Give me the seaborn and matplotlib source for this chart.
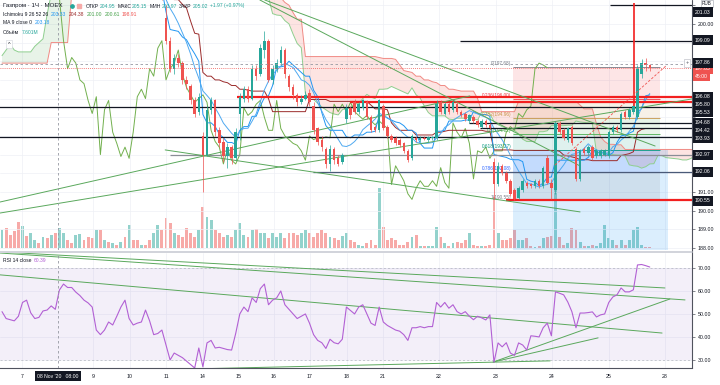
import numpy as np
import pandas as pd
import matplotlib
matplotlib.use("Agg")
import matplotlib.pyplot as plt
from matplotlib.lines import Line2D
import seaborn as sns

sns.set_theme(style="white")
plt.rcParams["font.family"] = ["Liberation Sans", "DejaVu Sans"]

# Газпром, 1Ч, MOEX — свечи (индекс = номер бара)
open_ = [204.2, 204.5, 203.9, 203.4, 202.8, 202.1, 202.4, 201.8, 202.2, 202.7,
         202.5, 203.1, 202.9, 203.2, 204.95, 205.0, 205.3, 204.9, 204.6, 204.8,
         205.1, 204.4, 203.9, 203.3, 203.7, 203.0, 203.2, 202.7, 202.9, 202.3,
         202.6, 202.0, 202.2, 201.9, 201.5, 201.8, 201.6, 201.4, 201.5, 201.6,
         200.3, 199.1, 197.6, 198.2, 197.9, 197.0, 196.7, 195.9, 195.3, 194.0,
         193.0, 195.4, 195.9, 194.3, 193.7, 192.9, 193.4, 192.8, 195.2, 196.0,
         196.5, 196.0, 197.6, 197.3, 198.6, 199.1, 197.0, 197.6, 197.9, 198.6,
         197.2, 196.6, 196.2, 195.8, 196.0, 196.3, 195.6, 194.4, 193.8, 193.3,
         192.5, 193.3, 192.8, 192.6, 194.9, 195.5, 195.8, 195.3, 195.5, 195.8,
         195.0, 194.5, 194.3, 195.6, 194.5, 194.0, 193.9, 193.8, 193.6, 193.2,
         192.8, 193.9, 193.8, 193.9, 193.8, 193.9, 193.9, 195.8, 195.2, 195.7,
         195.4, 195.7, 195.3, 195.2, 194.8, 195.0, 194.8, 194.5, 194.8, 194.6,
         192.6, 191.4, 192.4, 192.0, 191.6, 191.1, 190.7, 191.1, 191.5, 191.4,
         191.3, 191.6, 191.3, 192.8, 191.5, 191.1, 194.7, 194.3, 193.8, 194.5,
         193.3, 191.7, 193.3, 193.1, 193.4, 192.9, 192.9, 193.0, 192.9, 194.2,
         194.5, 194.3, 195.3, 195.0, 195.3, 195.0, 197.3, 197.9, 197.8]
high = [204.7, 204.6, 204.1, 203.6, 203.0, 202.6, 202.5, 202.3, 202.9, 203.0,
        203.2, 203.4, 203.3, 203.4, 205.15, 205.5, 205.4, 205.1, 205.0, 205.3,
        205.2, 204.6, 204.0, 203.9, 203.8, 203.3, 203.4, 203.0, 203.0, 202.8,
        202.7, 202.3, 202.4, 202.0, 202.0, 201.9, 201.7, 201.6, 201.7, 201.8,
        201.0, 199.3, 198.4, 198.4, 198.0, 197.2, 196.8, 196.1, 196.3, 194.2,
        195.6, 196.1, 196.0, 194.5, 193.9, 193.6, 193.5, 194.4, 196.3, 196.7,
        196.7, 197.8, 197.8, 198.9, 199.6, 199.2, 197.8, 198.1, 198.8, 198.7,
        197.3, 196.8, 196.3, 196.2, 196.4, 196.5, 195.8, 194.5, 194.0, 193.4,
        193.5, 193.4, 193.0, 193.1, 195.7, 195.6, 196.0, 195.8, 196.0, 195.9,
        195.1, 194.6, 196.0, 195.7, 194.6, 194.1, 194.0, 193.9, 193.7, 193.3,
        194.1, 194.0, 194.0, 194.0, 194.0, 194.0, 195.9, 195.9, 195.8, 195.8,
        195.9, 195.8, 195.4, 195.3, 195.2, 195.1, 194.9, 194.9, 194.9, 194.7,
        192.8, 192.6, 192.5, 192.1, 191.7, 191.2, 191.3, 191.7, 191.6, 191.5,
        191.7, 191.7, 192.4, 193.0, 191.7, 194.8, 194.8, 194.4, 194.5, 194.6,
        193.4, 193.3, 193.4, 193.5, 193.5, 193.3, 193.3, 193.3, 194.3, 194.6,
        194.6, 195.3, 195.4, 195.5, 195.7, 197.8, 198.1, 198.2, 197.85]
low = [203.9, 203.8, 203.3, 202.6, 201.9, 201.8, 201.6, 201.6, 202.1, 202.4,
       202.4, 202.8, 202.7, 202.9, 203.97, 204.8, 204.7, 204.4, 204.5, 204.6,
       204.3, 203.7, 203.1, 203.2, 202.9, 202.6, 202.5, 202.4, 202.2, 202.2,
       201.9, 201.7, 201.8, 201.4, 201.4, 201.4, 201.35, 201.35, 201.35, 201.3,
       198.9, 197.4, 197.3, 197.7, 196.8, 196.5, 195.7, 195.0, 195.1, 191.0,
       192.9, 195.2, 194.0, 193.4, 192.6, 192.3, 192.5, 192.7, 193.8, 195.8,
       195.8, 195.9, 197.0, 197.2, 198.2, 196.9, 196.8, 197.4, 197.8, 197.1,
       196.4, 196.0, 195.6, 195.7, 195.9, 195.6, 194.1, 193.5, 193.2, 192.3,
       192.1, 192.5, 192.4, 192.5, 194.7, 194.9, 195.2, 195.2, 195.4, 194.9,
       194.2, 194.2, 194.2, 194.3, 193.9, 193.7, 193.5, 193.4, 193.1, 192.6,
       192.7, 193.7, 193.7, 193.8, 193.7, 193.8, 193.8, 195.2, 195.1, 195.2,
       195.3, 195.2, 195.0, 194.8, 194.7, 194.7, 194.5, 194.4, 194.5, 194.3,
       190.6, 191.3, 191.9, 191.5, 190.8, 190.55, 190.6, 191.0, 191.2, 191.2,
       191.2, 191.2, 191.2, 191.4, 190.6, 190.9, 194.1, 193.8, 193.7, 193.5,
       191.6, 191.6, 193.0, 193.0, 192.7, 192.8, 192.8, 192.9, 192.8, 194.1,
       194.2, 194.2, 194.9, 194.9, 195.2, 194.9, 197.1, 197.5, 197.5]
close = [204.5, 203.9, 203.4, 202.8, 202.1, 202.4, 201.8, 202.2, 202.7, 202.5,
         203.1, 202.9, 203.2, 203.05, 205.02, 205.3, 204.9, 204.6, 204.8, 205.1,
         204.4, 203.9, 203.3, 203.7, 203.0, 203.2, 202.7, 202.9, 202.3, 202.6,
         202.0, 202.2, 201.9, 201.5, 201.8, 201.6, 201.4, 201.5, 201.6, 201.4,
         199.1, 197.6, 198.2, 197.9, 197.0, 196.8, 195.9, 195.2, 196.1, 193.0,
         195.4, 195.9, 194.2, 193.6, 192.9, 193.4, 192.8, 194.2, 196.1, 196.5,
         196.0, 197.6, 197.2, 198.7, 199.1, 197.0, 197.6, 197.9, 198.6, 197.3,
         196.6, 196.2, 195.8, 196.0, 196.2, 195.8, 194.3, 193.7, 193.4, 192.5,
         193.3, 192.7, 192.5, 193.0, 195.5, 195.1, 195.3, 195.7, 195.9, 195.0,
         194.3, 194.3, 195.9, 194.4, 194.0, 193.8, 193.6, 193.5, 193.2, 192.7,
         194.0, 193.8, 193.9, 193.85, 193.95, 193.9, 195.7, 195.3, 195.7, 195.3,
         195.8, 195.3, 195.1, 194.9, 195.1, 194.8, 194.6, 194.8, 194.6, 194.4,
         191.4, 192.4, 192.0, 191.6, 190.9, 190.6, 191.2, 191.6, 191.3, 191.3,
         191.6, 191.3, 192.3, 191.5, 191.2, 194.7, 194.2, 193.9, 194.4, 193.6,
         191.7, 193.2, 193.1, 193.4, 192.8, 193.2, 193.2, 193.2, 194.2, 194.5,
         194.3, 195.2, 195.0, 195.4, 195.6, 197.6, 197.9, 197.8, 197.65]
volume_m = [6.8, 7.6, 4.9, 6.5, 9.9, 8.4, 4.6, 5.7, 3.0, 1.9, 4.2, 3.8, 4.9, 5.7, 7.601,
            5.7, 3.0, 1.9, 4.9, 5.3, 3.0, 4.2, 3.8, 6.8, 6.8, 3.0, 2.3, 1.9, 1.1, 2.3,
            4.2, 8.7, 3.0, 3.0, 1.1, 1.1, 3.0, 5.7, 8.7,
            6.8, 11.4, 9.5, 5.7, 4.9, 4.2, 7.6, 5.7, 4.2, 6.8, 15.6, 11.8, 10.6, 6.8,
            5.7, 4.2, 4.9, 4.2, 6.8, 9.5, 4.9, 4.2, 6.8, 7.2, 5.7, 5.7, 3.8, 5.7, 4.2,
            5.7, 3.8, 5.7, 5.7, 4.9, 5.7, 6.8, 5.7, 4.2, 5.7, 6.8, 5.7, 4.2,
            3.8, 3.0, 4.6, 5.7, 3.0, 2.3, 1.1, 0.8, 1.9, 3.0, 1.1, 22.8, 8.0, 3.0, 3.8,
            3.0, 1.1, 1.1, 2.3, 4.2, 4.9, 0.8, 0.8, 0.8, 0.8, 8.0, 4.2, 1.9, 0.8, 1.9,
            2.3, 1.9, 3.0, 5.7, 1.1, 0.8, 0.8, 0.8, 1.1, 19.4, 5.7, 3.0, 3.0, 3.8, 6.8,
            3.0, 3.0, 3.8, 0.8, 0.4, 0.8, 3.8, 4.2, 4.6, 27.0, 4.2, 1.1, 1.9, 7.6, 6.8,
            2.3, 0.8, 0.8, 1.1, 0.8, 1.9, 8.7, 3.8, 3.0, 1.1, 3.0, 1.1, 3.0, 6.8, 8.0,
            1.1, 0.4, 0.4]
rsi = [51, 48, 47.5, 47, 49, 55, 56, 50.5, 48, 48.5,
       51.3, 51.7, 53.5, 52, 60.4, 63, 61.5, 61.5, 59.5, 58,
       56, 54.8, 53, 43, 41, 43, 46.5, 45.2, 49, 53,
       56, 48, 45.2, 46, 46.5, 51.7, 47, 41, 41.5, 43,
       36.5, 30, 33, 32, 31, 29.5, 28, 26.5, 35.2, 27,
       37.4, 38.5, 35.2, 35.5, 35, 34.5, 34.3, 41.5, 50, 53,
       51, 57, 55, 61, 63, 54, 56, 57, 60, 54,
       52, 50, 48, 49, 50, 46, 41, 38.5, 37.5, 35,
       39, 37.5, 37, 39, 53, 51.5, 50, 53, 54, 50,
       46, 45, 53, 46.5, 45, 44, 43, 42.5, 41, 38.5,
       44, 44, 44.5, 44, 44.5, 44.5, 55, 53, 55, 52.5,
       54, 51, 50, 51, 49, 47.5, 49, 48.3, 47.4, 49.6,
       29, 37.4, 35.7, 37.5, 33, 32, 37.4, 36.5, 34.3, 40.5,
       40.3, 40, 44, 46, 40.5, 59.6, 59, 58.3, 55.2, 51,
       44, 50.4, 50.4, 50.6, 50.9, 48.7, 49.6, 50, 55, 57.4,
       58.3, 61.3, 59.6, 59.6, 60.5, 71.3, 71.5, 71, 70.4]

# облако Ишимоку до первой свечи (25 баров слева)
span_a_prior = [198.3, 198.6, 198.9, 198.6, 198.5, 198.5, 198.5, 198.5, 198.8, 199.0,
                199.2, 200.5, 201.6, 202.2, 202.6, 203.0, 203.3, 203.5, 203.7, 203.8,
                203.9, 204.0, 204.0, 204.1, 204.2]
span_b_prior = [197.9, 197.9, 197.9, 197.9, 197.9, 197.9, 197.9, 197.9, 197.9, 197.9,
                197.9, 197.9, 199.0, 199.0, 199.0, 199.0, 199.0, 201.6, 202.0, 202.4,
                202.8, 203.1, 203.4, 203.6, 203.8]

tick_pos = [4.9, 22.2, 31.2, 40, 49, 57.6, 66.3, 75.1, 84.1, 92.9, 106.6, 120.5, 134.1, 148, 161.7]
tick_labels = ["7", "9", "10", "11", "14", "15", "16", "17", "18", "21", "22", "23", "24", "25", "28"]

levels = [201.03, 199.09, 196.08, 195.80, 195.53, 194.68, 194.42, 193.93, 192.97, 192.06, 190.55]
level_start = [148.3, 111.7, 57.3, 84.9, -1, 114, 116.6, -1, 41, 75.9, 123]
level_color = ["#131722", "#131722", "#f21f1f", "#f21f1f", "#131722", "#131722", "#131722",
               "#131722", "#8a8d96", "#4a5a78", "#f21f1f"]
# где стоят подписи уровней на шкале (пиксели сверху), чтобы не налезали
label_y_px = [12, 40, 97, 104, 112, 123, 131, 138, 155, 172, 201]

fib_ratio = ["0", "0.236", "0.382", "0.5", "0.618", "0.786", "1"]
fib_price = [197.68, 196.00, 194.96, 194.12, 193.27, 192.08, 190.55]
fib_color = ["#787b86", "#f23645", "#c7954a", "#4caf50", "#089981", "#2962ff", "#787b86"]

# трендовые линии: (бар0, цена0, бар1, цена1)
price_trends = [(-0.49, 190.46, 114.1, 196.14), (-0.49, 189.87, 168.3, 195.98),
                (64.1, 201.28, 159.3, 193.46), (62.9, 201.28, 141.0, 192.39),
                (39.8, 193.25, 141.0, 189.93)]
rsi_trends = [(-0.49, 76.96, 161.7, 61.3), (-0.49, 76.5, 166.6, 56.1),
              (-0.49, 67.0, 161.0, 41.7), (46.6, 26.1, 133.7, 29.6),
              (119.8, 29.1, 145.4, 39.6), (119.8, 29.1, 162.9, 56.5)]

df = pd.DataFrame({"o": open_, "h": high, "l": low, "c": close, "v": volume_m, "rsi": rsi})
df["i"] = np.arange(len(df))
up = (df.c >= df.o).values

tenkan = (df.h.rolling(9, min_periods=1).max() + df.l.rolling(9, min_periods=1).min()) / 2
kijun = (df.h.rolling(26, min_periods=1).max() + df.l.rolling(26, min_periods=1).min()) / 2
ma9 = df.c.rolling(9, min_periods=1).mean()
lead_a = np.r_[span_a_prior, ((tenkan + kijun) / 2).values]
lead_b = np.r_[span_b_prior, ((df.h.rolling(52, min_periods=1).max()
                               + df.l.rolling(52, min_periods=1).min()) / 2).values]
lead_x = np.arange(len(lead_a))

XMIN, XMAX = -0.49, 168.3
PMIN, PMAX = 187.89, 201.28
PX_PER_RUB = 18.67

fig = plt.figure(figsize=(7.2, 3.85), dpi=100)
ax = fig.add_axes([0, 135 / 385, 692 / 720, 250 / 385])
axv = ax.twinx()
ax.set_zorder(axv.get_zorder() + 1)
ax.patch.set_visible(False)
axr = fig.add_axes([0, 17 / 385, 692 / 720, 115 / 385])

# объём
axv.bar(df.i, df.v, width=0.72, color=np.where(up, "#93d2cc", "#f7aaa8"), lw=0)
axv.set_ylim(-0.8, 94.2)
axv.axis("off")

# облако
ax.fill_between(lead_x, lead_a, lead_b, where=lead_a >= lead_b, interpolate=True,
                color="#43a047", alpha=0.12, lw=0)
ax.fill_between(lead_x, lead_a, lead_b, where=lead_a < lead_b, interpolate=True,
                color="#f44336", alpha=0.14, lw=0)
sns.lineplot(x=lead_x, y=lead_a, ax=ax, color="#8fcf8f", lw=0.7)
sns.lineplot(x=lead_x, y=lead_b, ax=ax, color="#f08a84", lw=0.7)

# фибо и прямоугольник
fx0, fx1 = 124.6, 160.5
ax.fill_between([fx0, 162.4], PMIN, 193.27, color="#2196f3", alpha=0.16, lw=0)
for k in range(6):
    ax.fill_between([fx0, fx1], fib_price[k], fib_price[k + 1], color=fib_color[k + 1],
                    alpha=0.13, lw=0)
ax.hlines(fib_price, fx0, fx1, colors=fib_color, lw=0.6)
for r, p, col in zip(fib_ratio, fib_price, fib_color):
    ax.text(fx0 - 0.3, p + 0.04, f"{r}({p:.2f})", color=col, fontsize=3.4,
            ha="right", va="bottom")

# уровни
for p, s, col in zip(levels, level_start, level_color):
    lw = 1.6 if col == "#f21f1f" else 0.9
    ax.hlines(p, s, XMAX, colors=col, lw=lw, zorder=3)

for x0, y0, x1, y1 in price_trends:
    ax.plot([x0, x1], [y0, y1], color="#5aa85c", lw=0.7, zorder=3)

# индикаторы
sns.lineplot(x=df.i - 25, y=df.c, ax=ax, color="#72b04e", lw=0.7)
sns.lineplot(x=df.i, y=kijun, ax=ax, color="#9b2c2c", lw=0.7)
sns.lineplot(x=df.i, y=tenkan, ax=ax, color="#2196f3", lw=0.7)
sns.lineplot(x=df.i, y=ma9, ax=ax, color="#4fa9f0", lw=0.7)

# свечи
ccol = np.where(up, "#26a69a", "#ef5350")
ax.vlines(df.i, df.l, df.h, colors=ccol, lw=0.5, zorder=4)
body = np.maximum((df.c - df.o).abs().values, 0.03)
ax.bar(df.i, body, bottom=np.minimum(df.o, df.c), width=0.62, color=ccol, lw=0, zorder=5)

ax.vlines(154.1, 195.6, 201.1, colors="#f21f1f", lw=1.2, zorder=6)
ax.plot([134.9, 162.2], [192.44, 197.80], color="#ef5350", lw=0.6, ls=(0, (3, 2)), zorder=6)
ax.axhline(197.65, color="#ef5350", lw=0.6, ls=(0, (1, 1.5)), zorder=6)
ax.axhline(197.86, color="#9598a1", lw=0.6, ls=(0, (3, 3)), zorder=6)
ax.axvline(13.7, color="#9598a1", lw=0.6, ls=(0, (3, 3)), zorder=6)

# RSI
axr.fill_between([XMIN, XMAX], 30, 70, color="#7e57c2", alpha=0.09, lw=0)
axr.axhline(70, color="#b2b5be", lw=0.5, ls=(0, (3, 3)))
axr.axhline(30, color="#b2b5be", lw=0.5, ls=(0, (3, 3)))
for x0, y0, x1, y1 in rsi_trends:
    axr.plot([x0, x1], [y0, y1], color="#5aa85c", lw=0.7)
sns.lineplot(x=df.i, y=df.rsi, ax=axr, color="#b260d4", lw=0.8)
axr.axvline(13.7, color="#9598a1", lw=0.6, ls=(0, (3, 3)))

# оси
for a in (ax, axr):
    a.set_xlim(XMIN, XMAX)
    a.set_xlabel("")
    a.set_ylabel("")
    a.set_xticks(tick_pos)
    a.grid(True, color="#eef0f5", lw=0.5)
    a.set_axisbelow(True)
    a.yaxis.tick_right()
    for sp in ("top", "left", "bottom", "right"):
        a.spines[sp].set_visible(False)
    a.tick_params(axis="y", labelsize=3.8, length=2, pad=2, color="#50535e",
                  labelcolor="#131722", width=0.5)

ax.set_ylim(PMIN, PMAX)
yt = list(range(188, 202))
ax.set_yticks(yt)
ax.set_yticklabels([f"{v:.2f}" if v in (188, 189, 190, 191, 200) else "" for v in yt])
ax.tick_params(axis="x", labelbottom=False, length=0)

axr.set_ylim(26.5, 76.5)
axr.set_yticks([30, 40, 50, 60, 70])
axr.set_yticklabels([f"{v:.2f}" for v in (30, 40, 50, 60, 70)])
axr.set_xticklabels(tick_labels)
axr.spines["bottom"].set_visible(True)
axr.spines["bottom"].set_color("#50535e")
axr.spines["bottom"].set_linewidth(0.8)
axr.tick_params(axis="x", labelsize=3.8, length=2, pad=2, color="#50535e",
                labelcolor="#131722", width=0.5)

fig.add_artist(Line2D([692 / 720, 692 / 720], [17 / 385, 1], color="#50535e", lw=0.8))
fig.add_artist(Line2D([0, 692 / 720], [1 - 251.5 / 385] * 2, color="#c9ccd4", lw=1.2))

renderer = fig.canvas.get_renderer()


def px_text(x, y, s, **kw):
    return fig.text(x / 720, 1 - y / 385, s, va="center", **kw)


def chain(x, y, parts, size=3.6):
    # подписи легенды одна за другой, без наложения
    for s, col, gap in parts:
        t = px_text(x, y, s, fontsize=size, color=col)
        x = t.get_window_extent(renderer=renderer).x1 + gap


def price_label(y_px, s, fc, z=10):
    fig.text(695 / 720, 1 - y_px / 385, s, fontsize=3.7, color="white", ha="left",
             va="center", zorder=z,
             bbox=dict(boxstyle="square,pad=0.4", fc=fc, ec="none"))


price_label(69, "197.65", "#ef5350")
price_label(76.5, "45:00", "#ef5350")
for p, y in zip(levels, label_y_px):
    price_label(y, f"{p:.2f}", "#131722", 11)
price_label(63, "197.86", "#131722", 12)
px_text(687, 63, "+", fontsize=4, color="#50535e", ha="center",
        bbox=dict(boxstyle="square,pad=0.2", fc="white", ec="#b2b5be", lw=0.4))

# легенда
grey = "#131722"
chain(3, 6, [("Газпром · 1Ч · MOEX", grey, 4)], size=4.4)
fig.add_artist(Line2D([72 / 720], [1 - 6 / 385], marker="o", ms=2.4, color="#26a69a", lw=0))
fig.add_artist(Line2D([79 / 720], [1 - 6 / 385], marker="s", ms=2.6, color="#f7aaa8", lw=0))
chain(86, 6, [("ОТКР", grey, 0.5), ("204.95", "#26a69a", 2.5), ("МАКС", grey, 0.5),
              ("205.15", "#26a69a", 2.5), ("МИН", grey, 0.5), ("203.97", "#26a69a", 2.5),
              ("ЗАКР", grey, 0.5), ("205.02", "#26a69a", 2.5), ("+1.97 (+0.97%)", "#26a69a", 0)])
chain(3, 14.5, [("Ichimoku 9 26 52 26", grey, 2.5), ("203.33", "#2196f3", 2.5),
                ("204.38", "#9b2c2c", 2.5), ("201.00", "#43a047", 2.5),
                ("200.61", "#43a047", 2.5), ("198.91", "#ef5350", 0)])
chain(3, 23, [("MA 9 close 0", grey, 2.5), ("203.18", "#2196f3", 0)])
chain(3, 32, [("Объём", grey, 2.5), ("7.601M", "#26a69a", 0)])
px_text(9, 44, "^", fontsize=4, color=grey, ha="center",
        bbox=dict(boxstyle="square,pad=0.3", fc="white", ec="#d1d4dc", lw=0.4))
chain(3, 261, [("RSI 14 close", grey, 2.5), ("60.39", "#b260d4", 0)])

px_text(707, 3.5, "RUB", fontsize=3.3, color=grey, ha="center",
        bbox=dict(boxstyle="square,pad=0.25", fc="white", ec="#b2b5be", lw=0.5))
px_text(58, 376, "08 Nov '20   08:00", fontsize=3.7, color="white", ha="center",
        bbox=dict(boxstyle="square,pad=0.4", fc="#131722", ec="none"))

fig.savefig("out.png", dpi=100)
